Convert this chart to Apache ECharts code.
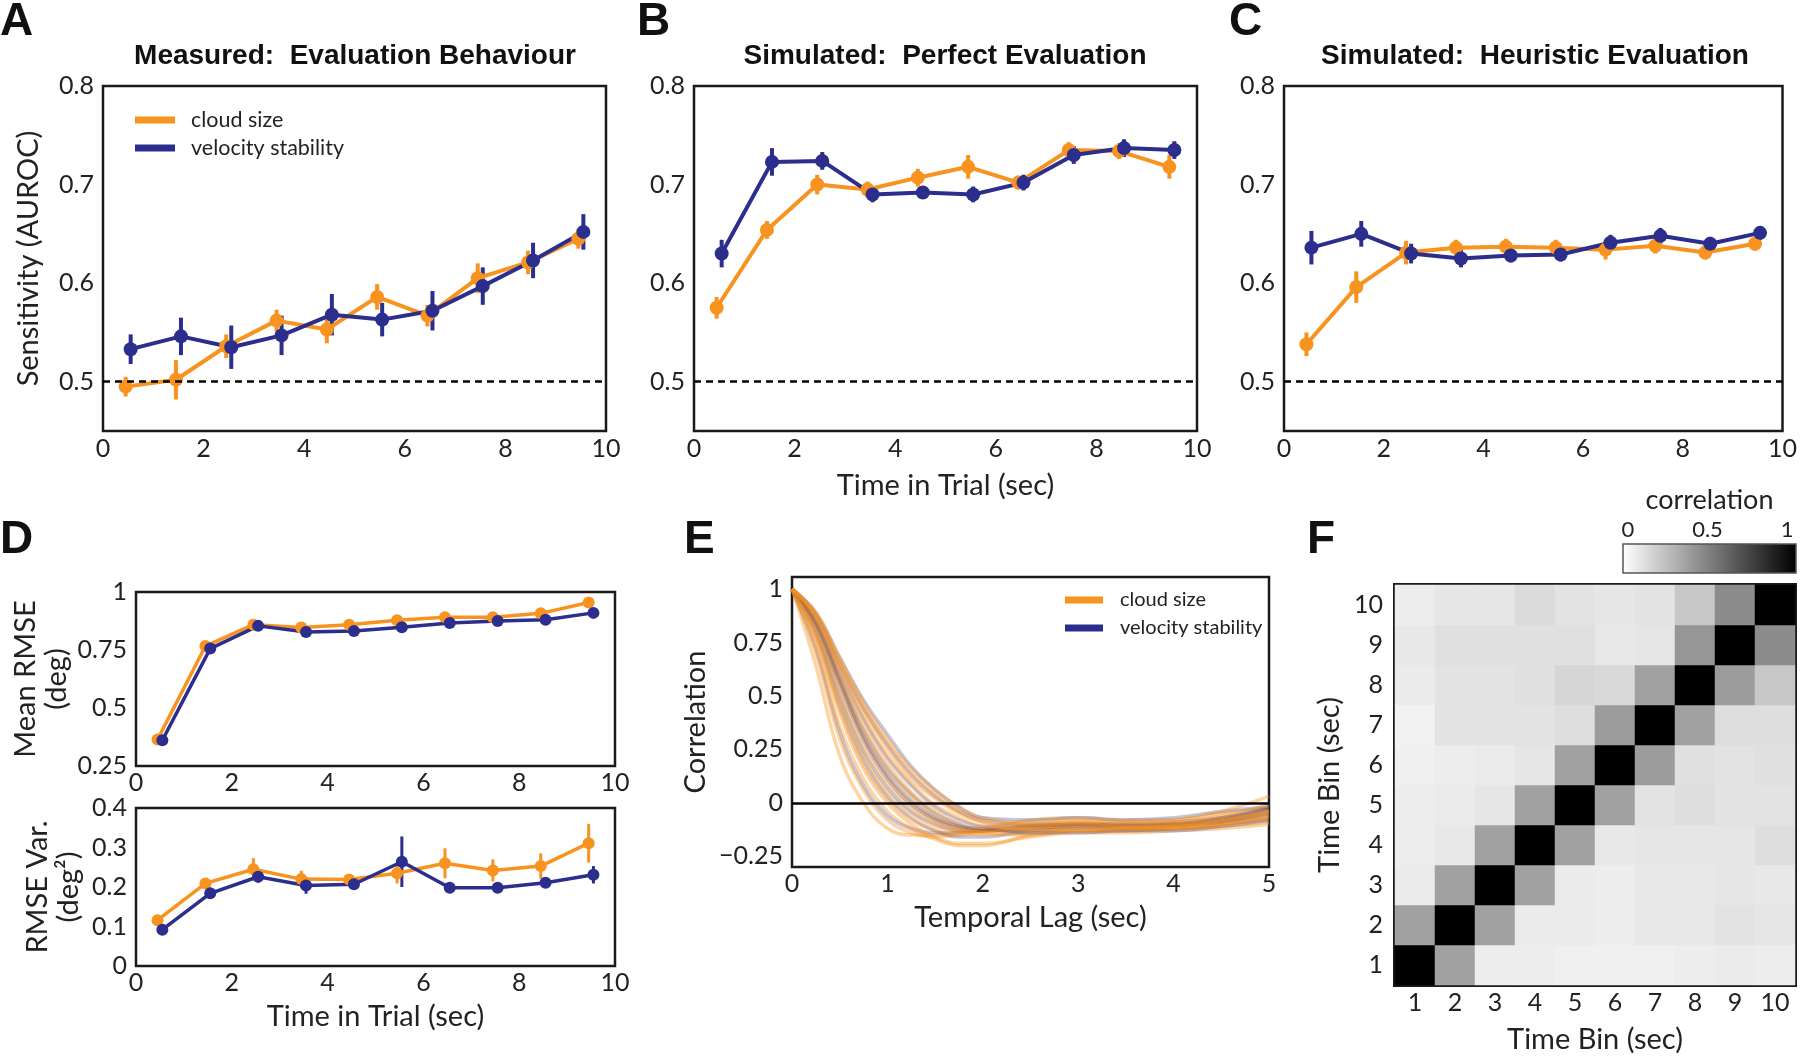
<!DOCTYPE html>
<html><head><meta charset="utf-8">
<script src="https://cdn.jsdelivr.net/npm/echarts@6/dist/echarts.min.js"></script>
<style>html,body{margin:0;padding:0;background:#fff}#c{width:1800px;height:1056px}</style>
</head><body><div id="c"></div>
<script>
// ---------- data ----------
const timeBins = [0.5,1.5,2.5,3.5,4.5,5.5,6.5,7.5,8.5,9.5];
const aurocTicks = [0.5,0.6,0.7,0.8];
const corrTicks = [-0.25,0,0.25,0.5,0.75,1];
const cbarTicks = [0,0.5,1];
const binLabels = ['1','2','3','4','5','6','7','8','9','10'];

// A: measured
const measCloud    = [0.495,0.502,0.536,0.562,0.553,0.586,0.567,0.605,0.621,0.645];
const measCloudErr = [0.010,0.020,0.012,0.011,0.014,0.013,0.011,0.015,0.012,0.010];
const measVel      = [0.533,0.546,0.535,0.547,0.568,0.563,0.572,0.597,0.623,0.652];
const measVelErr   = [0.015,0.019,0.022,0.020,0.021,0.017,0.020,0.019,0.018,0.018];
// B: perfect
const perfCloud    = [0.575,0.654,0.700,0.695,0.707,0.718,0.702,0.735,0.734,0.718];
const perfCloudErr = [0.011,0.009,0.010,0.008,0.009,0.012,0.007,0.008,0.008,0.012];
const perfVel      = [0.630,0.723,0.724,0.690,0.692,0.690,0.702,0.730,0.737,0.735];
const perfVelErr   = [0.014,0.014,0.009,0.008,0.006,0.008,0.008,0.009,0.009,0.009];
// C: heuristic
const heurCloud    = [0.538,0.596,0.631,0.636,0.637,0.636,0.634,0.638,0.631,0.640];
const heurCloudErr = [0.012,0.016,0.012,0.008,0.008,0.008,0.010,0.008,0.007,0.007];
const heurVel      = [0.636,0.650,0.630,0.625,0.628,0.629,0.641,0.648,0.640,0.651];
const heurVelErr   = [0.017,0.013,0.010,0.009,0.007,0.007,0.008,0.008,0.007,0.007];
// D top: mean RMSE
const rmseCloud    = [0.364,0.767,0.859,0.847,0.859,0.878,0.891,0.891,0.908,0.955];
const rmseCloudErr = [0.005,0.008,0.008,0.010,0.008,0.008,0.015,0.015,0.012,0.012];
const rmseVel      = [0.361,0.756,0.854,0.828,0.832,0.848,0.866,0.875,0.880,0.910];
const rmseVelErr   = [0.004,0.006,0.006,0.006,0.006,0.006,0.006,0.006,0.006,0.006];
// D bottom: RMSE variance
const varCloud     = [0.116,0.209,0.245,0.220,0.219,0.235,0.260,0.242,0.253,0.311];
const varCloudErr  = [0.008,0.012,0.028,0.021,0.010,0.026,0.038,0.028,0.032,0.049];
const varVel       = [0.092,0.184,0.226,0.204,0.207,0.264,0.198,0.198,0.211,0.231];
const varVelErr    = [0.005,0.008,0.015,0.021,0.012,0.064,0.006,0.008,0.008,0.022];

// E: autocorrelation curves
const lags = [0,0.25,0.5,0.75,1,1.25,1.5,1.75,2,2.5,3,3.5,4,4.5,5];
const cloudCurves = [
  [1,.64,.22,.00,-.12,-.15,-.15,-.14,-.13,-.12,-.11,-.12,-.11,-.09,-.06],
  [1,.70,.30,.06,-.08,-.14,-.16,-.15,-.13,-.11,-.10,-.11,-.10,-.08,-.04],
  [1,.74,.36,.11,-.04,-.12,-.17,-.20,-.20,-.15,-.13,-.13,-.12,-.10,-.08],
  [1,.77,.42,.16,.00,-.10,-.16,-.19,-.19,-.16,-.14,-.14,-.13,-.12,-.10],
  [1,.80,.48,.22,.05,-.05,-.11,-.13,-.12,-.08,-.07,-.08,-.08,-.05,-.02],
  [1,.82,.52,.26,.09,-.02,-.09,-.13,-.15,-.14,-.12,-.12,-.11,-.09,-.05],
  [1,.84,.56,.30,.12,.00,-.08,-.12,-.13,-.10,-.09,-.10,-.10,-.07,-.03],
  [1,.85,.58,.33,.15,.03,-.06,-.11,-.14,-.15,-.13,-.13,-.12,-.11,-.09],
  [1,.86,.60,.36,.18,.05,-.04,-.10,-.13,-.12,-.10,-.11,-.10,-.08,-.04],
  [1,.87,.63,.40,.22,.09,-.01,-.07,-.11,-.12,-.12,-.12,-.11,-.10,-.07],
  [1,.88,.65,.43,.25,.11,.02,-.05,-.09,-.10,-.09,-.09,-.09,-.06,-.01],
  [1,.88,.66,.45,.28,.14,.04,-.04,-.09,-.13,-.13,-.12,-.12,-.10,-.06],
  [1,.89,.68,.47,.30,.16,.06,-.02,-.07,-.09,-.08,-.09,-.08,-.04,.03],
  [1,.78,.44,.18,.02,-.08,-.13,-.15,-.14,-.11,-.10,-.11,-.11,-.08,-.04]
];
const velCurves = [
  [1,.72,.33,.08,-.06,-.12,-.14,-.14,-.13,-.11,-.10,-.11,-.11,-.09,-.05],
  [1,.79,.46,.20,.03,-.07,-.13,-.16,-.16,-.13,-.12,-.12,-.12,-.10,-.07],
  [1,.81,.50,.24,.07,-.04,-.10,-.13,-.13,-.11,-.10,-.11,-.10,-.08,-.03],
  [1,.83,.55,.29,.11,-.01,-.08,-.12,-.13,-.13,-.12,-.12,-.11,-.09,-.05],
  [1,.85,.59,.34,.16,.04,-.05,-.10,-.13,-.12,-.11,-.11,-.10,-.08,-.04],
  [1,.87,.62,.39,.21,.08,-.02,-.08,-.11,-.11,-.10,-.10,-.09,-.07,-.02],
  [1,.88,.65,.44,.27,.13,.03,-.04,-.08,-.10,-.10,-.10,-.10,-.07,-.03],
  [1,.89,.68,.48,.32,.17,.06,-.02,-.07,-.08,-.07,-.08,-.07,-.04,-.02],
  [1,.84,.57,.31,.13,.01,-.07,-.11,-.12,-.14,-.14,-.13,-.13,-.11,-.08]
];

// F: correlation matrix, rows = time bin 1..10 (bottom to top), cols = time bin 1..10
const corrMatrix = [
  [1.00,0.37,0.07,0.07,0.06,0.06,0.06,0.07,0.08,0.07],
  [0.37,1.00,0.37,0.08,0.08,0.07,0.09,0.09,0.11,0.10],
  [0.08,0.37,1.00,0.37,0.08,0.07,0.09,0.09,0.10,0.09],
  [0.07,0.09,0.37,1.00,0.37,0.09,0.10,0.10,0.10,0.13],
  [0.07,0.08,0.10,0.37,1.00,0.37,0.11,0.13,0.11,0.11],
  [0.06,0.07,0.08,0.10,0.37,1.00,0.39,0.12,0.11,0.12],
  [0.05,0.11,0.11,0.11,0.13,0.39,1.00,0.37,0.13,0.13],
  [0.08,0.11,0.11,0.12,0.16,0.15,0.37,1.00,0.39,0.22],
  [0.09,0.12,0.12,0.12,0.12,0.09,0.10,0.41,1.00,0.45],
  [0.07,0.10,0.10,0.14,0.11,0.10,0.11,0.22,0.45,1.00]
];

// ---------- styling ----------
const ORANGE = '#F7931E', BLUE = '#2B2E8C';
const FONT = 'Lato';
const BOLD = '"Liberation Sans"';
const TXT = '#222';
const DODGE = 0.05;
const TICK = 25, NAME = 29;

const chart = echarts.init(document.getElementById('c'), null, {renderer:'canvas'});

const grids = [], xAxes = [], yAxes = [], series = [];
function frameGrid(g, bw){ return Object.assign({show:true, borderColor:'#1a1a1a', borderWidth:bw||2.5, containLabel:false}, g); }
function lbl(size, margin){ return {color:TXT, fontFamily:FONT, fontSize:size, margin:margin}; }
function nameStyle(extra){ return Object.assign({color:TXT, fontFamily:FONT, fontSize:NAME}, extra||{}); }

function addValueGrid(g, xOpt, yOpt){
  const gi = grids.length;
  grids.push(frameGrid(g));
  xAxes.push(Object.assign({type:'value', gridIndex:gi, axisLine:{show:false}, axisTick:{show:false}, splitLine:{show:false},
    nameLocation:'middle', nameTextStyle:nameStyle()}, xOpt));
  yAxes.push(Object.assign({type:'value', gridIndex:gi, axisLine:{show:false}, axisTick:{show:false}, splitLine:{show:false},
    nameLocation:'middle', nameRotate:90, nameTextStyle:nameStyle()}, yOpt));
  return gi;
}

function errRenderer(w){
  return function(params, api){
    const x = api.value(0);
    const p1 = api.coord([x, api.value(1)]), p2 = api.coord([x, api.value(2)]);
    return {type:'line', shape:{x1:p1[0], y1:p1[1], x2:p2[0], y2:p2[1]},
      style:{stroke: api.visual('color'), lineWidth: w}};
  };
}

function addMeasure(gi, name, color, vals, errs, offset, lw, sym, ew){
  const xs = timeBins.map(t => t + offset);
  series.push({type:'custom', xAxisIndex:gi, yAxisIndex:gi, itemStyle:{color:color}, silent:true,
    renderItem: errRenderer(ew), data: xs.map((x,i)=>[x, vals[i]-errs[i], vals[i]+errs[i]]), z:2});
  series.push({type:'line', name:name, xAxisIndex:gi, yAxisIndex:gi, data: xs.map((x,i)=>[x, vals[i]]),
    symbol:'circle', symbolSize:sym, showSymbol:true, color:color,
    lineStyle:{color:color, width:lw}, itemStyle:{color:color}, z:3, silent:true, animation:false});
}

function refLine(gi, y, type){
  series.push({type:'line', xAxisIndex:gi, yAxisIndex:gi, data:[], silent:true,
    markLine:{symbol:['none','none'], silent:true, label:{show:false}, animation:false,
      lineStyle:{color:'#000', width:2.5, type:type}, data:[{yAxis:y}]}});
}

// ----- A, B, C -----
const topPanels = [
  {left:103, cloud:measCloud, ce:measCloudErr, vel:measVel, ve:measVelErr, yname:'Sensitivity (AUROC)', xname:''},
  {left:694, cloud:perfCloud, ce:perfCloudErr, vel:perfVel, ve:perfVelErr, yname:'', xname:'Time in Trial (sec)'},
  {left:1284, cloud:heurCloud, ce:heurCloudErr, vel:heurVel, ve:heurVelErr, yname:'', xname:''}
];
topPanels.forEach(p => {
  const gi = addValueGrid({left:p.left, width:503, top:86, height:345},
    {min:0, max:10, interval:2, axisLabel:lbl(TICK,5), name:p.xname, nameGap:40},
    {min:0.45, max:0.8, axisLabel:Object.assign(lbl(TICK,9), {customValues:aurocTicks}), name:p.yname, nameGap:60});
  refLine(gi, 0.5, [7,5]);
  addMeasure(gi, 'cloud size', ORANGE, p.cloud, p.ce, -DODGE, 4, 14, 4);
  addMeasure(gi, 'velocity stability', BLUE, p.vel, p.ve, DODGE, 4, 14, 4);
});

// ----- D top -----
let gi = addValueGrid({left:136, width:479, top:592, height:174},
  {min:0, max:10, interval:2, axisLabel:lbl(TICK,4)},
  {min:0.25, max:1, interval:0.25, axisLabel:lbl(TICK,9), name:'Mean RMSE\n(deg)', nameGap:64,
   nameTextStyle:nameStyle({lineHeight:31})});
addMeasure(gi, 'cloud size', ORANGE, rmseCloud, rmseCloudErr, -DODGE, 3.5, 12, 3);
addMeasure(gi, 'velocity stability', BLUE, rmseVel, rmseVelErr, DODGE, 3.5, 12, 3);

// ----- D bottom -----
gi = addValueGrid({left:136, width:479, top:808, height:158},
  {min:0, max:10, interval:2, axisLabel:lbl(TICK,4), name:'Time in Trial (sec)', nameGap:36},
  {min:0, max:0.4, interval:0.1, axisLabel:lbl(TICK,9), name:'RMSE Var.\n(deg\u00B2)', nameGap:52,
   nameTextStyle:nameStyle({lineHeight:31})});
addMeasure(gi, 'cloud size', ORANGE, varCloud, varCloudErr, -DODGE, 3.5, 12, 3);
addMeasure(gi, 'velocity stability', BLUE, varVel, varVelErr, DODGE, 3.5, 12, 3);

// ----- E -----
const giE = addValueGrid({left:792, width:477, top:577, height:290},
  {min:0, max:5, interval:1, axisLabel:lbl(TICK,4), name:'Temporal Lag (sec)', nameGap:36},
  {min:-0.3, max:1.056, axisLabel:Object.assign(lbl(TICK,9), {customValues:corrTicks,
     formatter: v => String(v).replace('-', '\u2212')}), name:'Correlation', nameGap:82});
function addCurve(name, color, opacity, vals){
  series.push({type:'line', name:name, xAxisIndex:giE, yAxisIndex:giE, data: lags.map((l,i)=>[l, vals[i]]),
    smooth:0.4, showSymbol:false, symbol:'none', silent:true, animation:false, color:color,
    lineStyle:{color:color, width:3.5, opacity:opacity}, z:2});
}
cloudCurves.forEach((c,i) => { addCurve('cloud size', ORANGE, 0.4, c); if (i < velCurves.length) addCurve('velocity stability', BLUE, 0.28, velCurves[i]); });
refLine(giE, 0, 'solid');

// ----- F heatmap -----
const giF = grids.length;
grids.push(frameGrid({left:1395, width:400, top:585, height:400}, 4));
xAxes.push({type:'category', gridIndex:giF, data:binLabels, axisLine:{show:false}, axisTick:{show:false}, splitLine:{show:false},
  axisLabel:lbl(TICK,5), name:'Time Bin (sec)', nameLocation:'middle', nameGap:40, nameTextStyle:nameStyle()});
yAxes.push({type:'category', gridIndex:giF, data:binLabels, axisLine:{show:false}, axisTick:{show:false}, splitLine:{show:false},
  axisLabel:lbl(TICK,12), name:'Time Bin (sec)', nameLocation:'middle', nameRotate:90, nameGap:51, nameTextStyle:nameStyle()});
const heatData = [];
corrMatrix.forEach((row, r) => row.forEach((v, c) => heatData.push([c, r, v])));
const heatIdx = series.length;
series.push({type:'heatmap', xAxisIndex:giF, yAxisIndex:giF, data:heatData, silent:true, z:1, animation:false});

// ----- colorbar -----
const giC = grids.length;
grids.push({show:true, left:1623, width:173, top:544, height:29, borderColor:'#555', borderWidth:1.5,
  backgroundColor: new echarts.graphic.LinearGradient(0,0,1,0,[{offset:0,color:'#ffffff'},{offset:1,color:'#000000'}])});
xAxes.push({type:'value', gridIndex:giC, position:'top', min:-0.03, max:1.055, axisLine:{show:false}, axisTick:{show:false},
  splitLine:{show:false}, axisLabel:Object.assign(lbl(22,3), {customValues:cbarTicks}),
  name:'correlation', nameLocation:'middle', nameGap:30, nameTextStyle:nameStyle({fontSize:27})});
yAxes.push({type:'value', gridIndex:giC, show:false, min:0, max:1});

// ----- texts -----
function txt(x, y, text, font, align){
  return {type:'text', x:x, y:y, silent:true, style:{text:text, font:font, fill:'#111', align:align||'center', verticalAlign:'middle'}};
}
const letterFont = 'bold 46px ' + BOLD;
const titleFont = 'bold 28px ' + BOLD;

chart.setOption({
  animation:false,
  backgroundColor:'#fff',
  grid: grids, xAxis: xAxes, yAxis: yAxes, series: series,
  visualMap: [{type:'continuous', show:false, min:0, max:1, seriesIndex:heatIdx, inRange:{color:['#ffffff','#000000']}}],
  legend: [
    {orient:'vertical', left:130, top:104, itemWidth:40, itemHeight:7, itemGap:6, icon:'rect', selectedMode:false,
     textStyle:{color:TXT, fontFamily:FONT, fontSize:21.5, lineHeight:22, padding:[0,0,0,11]},
     data:[{name:'cloud size', itemStyle:{color:ORANGE, opacity:1}}, {name:'velocity stability', itemStyle:{color:BLUE, opacity:1}}]},
    {orient:'vertical', left:1060, top:584, itemWidth:38, itemHeight:7, itemGap:6, icon:'rect', selectedMode:false,
     textStyle:{color:TXT, fontFamily:FONT, fontSize:20, lineHeight:22, padding:[0,0,0,12]},
     data:[{name:'cloud size', itemStyle:{color:ORANGE, opacity:1}}, {name:'velocity stability', itemStyle:{color:BLUE, opacity:1}}]}
  ],
  graphic: [
    txt(0, 22, 'A', letterFont, 'left'),
    txt(637, 22, 'B', letterFont, 'left'),
    txt(1229, 22, 'C', letterFont, 'left'),
    txt(0, 540, 'D', letterFont, 'left'),
    txt(684, 540, 'E', letterFont, 'left'),
    txt(1307, 540, 'F', letterFont, 'left'),
    txt(355, 56, 'Measured:  Evaluation Behaviour', titleFont),
    txt(945, 56, 'Simulated:  Perfect Evaluation', titleFont),
    txt(1535, 56, 'Simulated:  Heuristic Evaluation', titleFont)
  ]
});
</script></body></html>
